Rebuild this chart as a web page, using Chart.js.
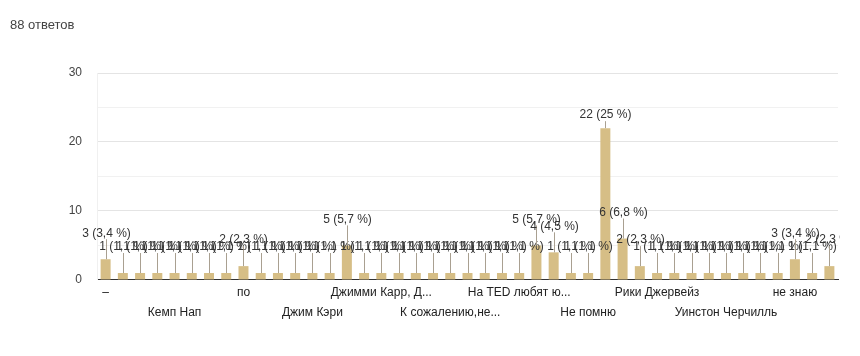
<!DOCTYPE html>
<html>
<head>
<meta charset="utf-8">
<script src="https://cdn.jsdelivr.net/npm/chart.js@4/dist/chart.umd.min.js"></script>
<style>
  html, body { margin: 0; padding: 0; background: #fff; }
  #wrap { position: relative; width: 860px; height: 356px; }
  #title { position: absolute; left: 10px; top: 17px; font: 13px Arial, "Liberation Sans", sans-serif; color: #444; }
  canvas { position: absolute; left: 0; top: 0; }
</style>
</head>
<body>
<div id="wrap">
  <canvas id="c" width="860" height="356"></canvas>
  <div id="title">88 ответов</div>
</div>
<script>
const responses = 88;
const categories = [
  '–', '', '', '', 'Кемп Нап', '', '', '', 'по', '', '', '',
  'Джим Кэри', '', '', '', 'Джимми Карр, Д...', '', '', '', 'К сожалению,не...', '', '', '',
  'На TED любят ю...', '', '', '', 'Не помню', '', '', '', 'Рики Джервейз', '', '', '',
  'Уинстон Черчилль', '', '', '', 'не знаю', '', ''
];
const values = [
  3, 1, 1, 1, 1, 1, 1, 1, 2, 1, 1, 1,
  1, 1, 5, 1, 1, 1, 1, 1, 1, 1, 1, 1,
  1, 5, 4, 1, 1, 22, 6, 2, 1, 1, 1, 1,
  1, 1, 1, 1, 3, 1, 2
];
const yTicks = [0, 10, 20, 30];

const FONT = 'Arial, "Liberation Sans", sans-serif';

function pct(v) {
  let s = (v / responses * 100).toFixed(1).replace('.', ',');
  if (s.endsWith(',0')) s = s.slice(0, -2);
  return v + ' (' + s + ' %)';
}

const annotations = {
  id: 'annotations',
  afterDatasetsDraw(chart) {
    const ctx = chart.ctx;
    const meta = chart.getDatasetMeta(0);
    ctx.save();
    ctx.beginPath();
    ctx.rect(0, 0, chart.chartArea.right + 2, chart.height);
    ctx.clip();
    ctx.font = '12px ' + FONT;
    ctx.textAlign = 'center';
    ctx.textBaseline = 'bottom';
    meta.data.forEach((bar, i) => {
      const v = values[i];
      const stem = v >= 10 ? 7 : 20;
      const x = Math.round(bar.x) + 0.5;
      const y = bar.y;
      ctx.strokeStyle = '#a9a091';
      ctx.lineWidth = 1;
      ctx.beginPath();
      ctx.moveTo(x, y);
      ctx.lineTo(x, y - stem);
      ctx.stroke();
      ctx.fillStyle = '#333';
      ctx.fillText(pct(v), x, y - stem);
    });
    ctx.restore();
  }
};

new Chart(document.getElementById('c'), {
  type: 'bar',
  data: {
    labels: categories,
    datasets: [{
      data: values,
      backgroundColor: 'rgb(214,190,134)',
      borderWidth: 0,
      barPercentage: 0.58,
      categoryPercentage: 1.0
    }]
  },
  options: {
    responsive: false,
    animation: false,
    events: [],
    layout: { padding: { left: 0, right: 22, top: 73, bottom: 30 } },
    plugins: { legend: { display: false }, tooltip: { enabled: false } },
    scales: {
      x: {
        offset: true,
        grid: { display: false, drawTicks: false },
        border: { display: true, color: '#333', width: 1 },
        ticks: {
          autoSkip: false,
          maxRotation: 0,
          minRotation: 0,
          padding: 3,
          color: '#222',
          font: { family: FONT, size: 12, lineHeight: 1.67 },
          callback: function (val, i) {
            const l = categories[i];
            if (!l) return '';
            return (i / 4) % 2 === 0 ? l : ['', l];
          }
        }
      },
      y: {
        min: 0,
        max: 30,
        afterFit: (s) => { s.width = 97; },
        afterBuildTicks: (s) => {
          const t = [];
          for (let v = 0; v <= 30; v += 5) t.push({ value: v });
          s.ticks = t;
        },
        grid: {
          drawTicks: false,
          color: (c) => (c.tick && c.tick.value % 10 === 0 ? '#e4e4e4' : '#f1f1f1')
        },
        border: { display: true, color: '#f0f0f0' },
        ticks: {
          padding: 15,
          color: '#444',
          font: { family: FONT, size: 12 },
          callback: (v) => (yTicks.includes(v) ? String(v) : '')
        }
      }
    }
  },
  plugins: [annotations]
});
</script>
</body>
</html>
